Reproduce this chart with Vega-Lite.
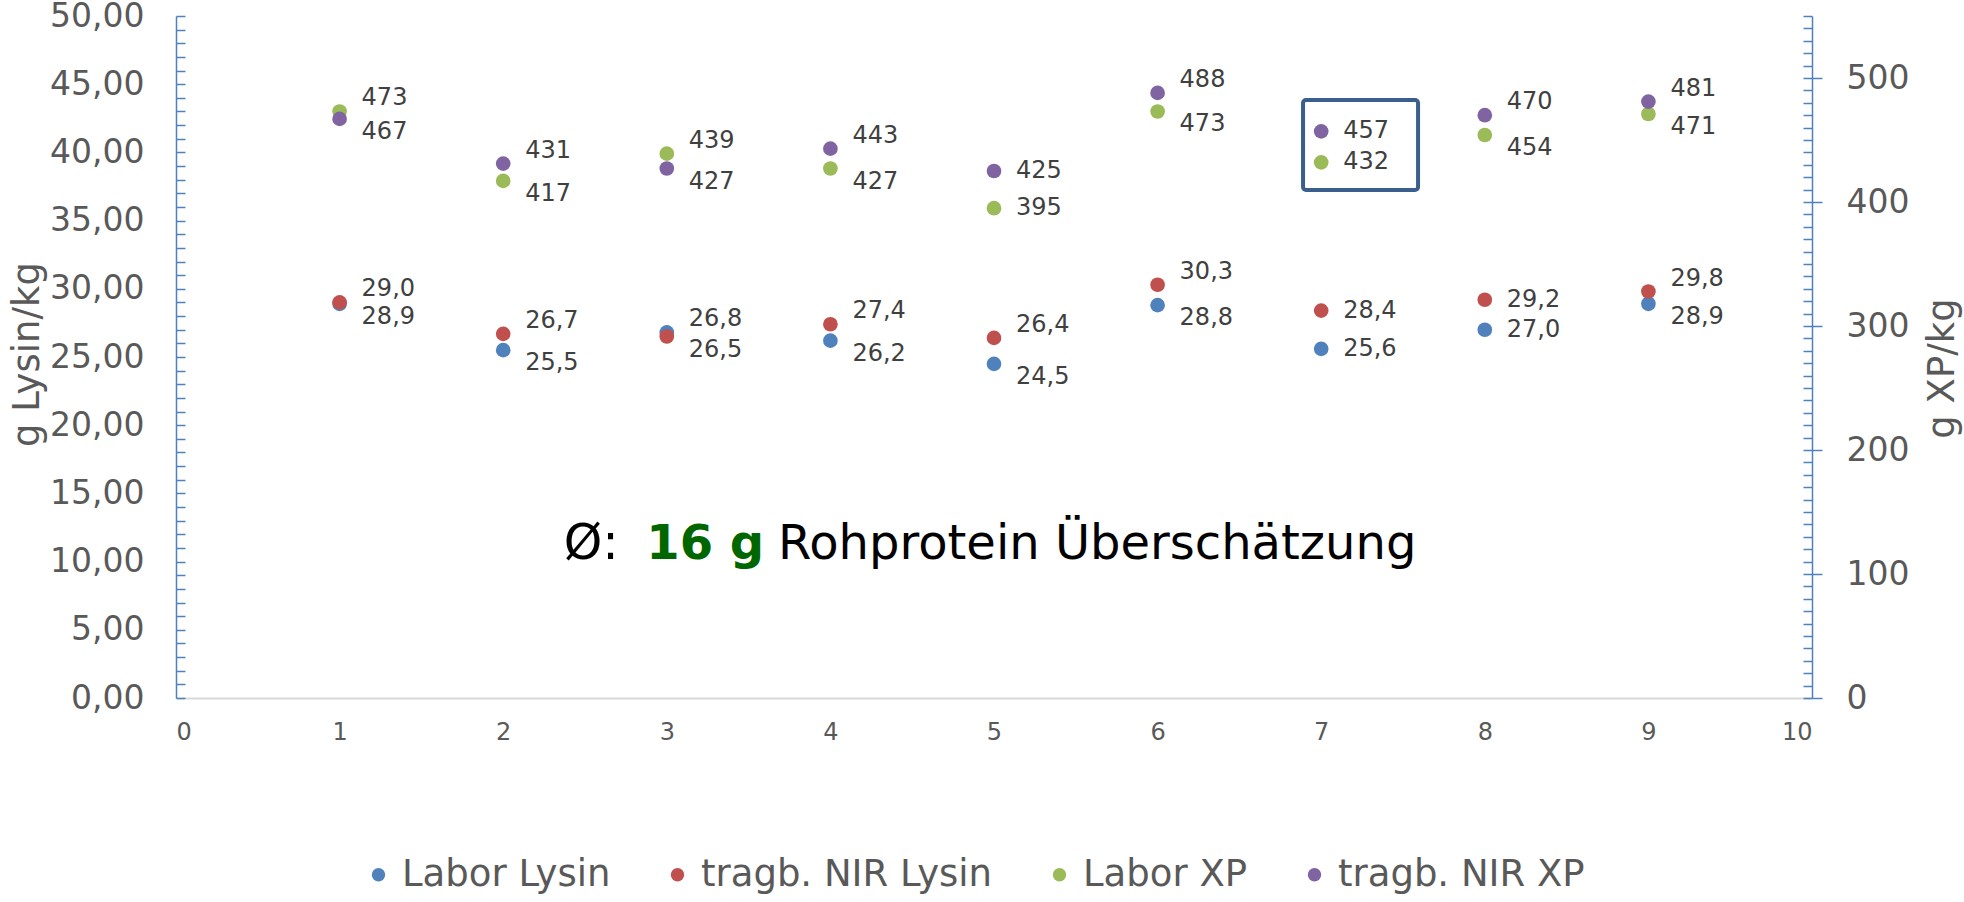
{
  "$schema": "https://vega.github.io/schema/vega-lite/v6.json",
  "width": 1636,
  "height": 682,
  "autosize": {"type": "none"},
  "padding": {"left": 176, "top": 16, "right": 152, "bottom": 204},
  "background": "#ffffff",
  "config": {
    "locale": {"number": {"decimal": ",", "thousands": ".", "grouping": [3], "currency": ["", " €"]}},
    "view": {"stroke": null},
    "font": "DejaVu Sans"
  },
  "datasets": {
    "werte": [
      {"nr": 1, "serie": "Labor Lysin", "gruppe": "Lysin", "wert": 28.9},
      {"nr": 2, "serie": "Labor Lysin", "gruppe": "Lysin", "wert": 25.5},
      {"nr": 3, "serie": "Labor Lysin", "gruppe": "Lysin", "wert": 26.8},
      {"nr": 4, "serie": "Labor Lysin", "gruppe": "Lysin", "wert": 26.2},
      {"nr": 5, "serie": "Labor Lysin", "gruppe": "Lysin", "wert": 24.5},
      {"nr": 6, "serie": "Labor Lysin", "gruppe": "Lysin", "wert": 28.8},
      {"nr": 7, "serie": "Labor Lysin", "gruppe": "Lysin", "wert": 25.6},
      {"nr": 8, "serie": "Labor Lysin", "gruppe": "Lysin", "wert": 27.0},
      {"nr": 9, "serie": "Labor Lysin", "gruppe": "Lysin", "wert": 28.9},
      {"nr": 1, "serie": "tragb. NIR Lysin", "gruppe": "Lysin", "wert": 29.0},
      {"nr": 2, "serie": "tragb. NIR Lysin", "gruppe": "Lysin", "wert": 26.7},
      {"nr": 3, "serie": "tragb. NIR Lysin", "gruppe": "Lysin", "wert": 26.5},
      {"nr": 4, "serie": "tragb. NIR Lysin", "gruppe": "Lysin", "wert": 27.4},
      {"nr": 5, "serie": "tragb. NIR Lysin", "gruppe": "Lysin", "wert": 26.4},
      {"nr": 6, "serie": "tragb. NIR Lysin", "gruppe": "Lysin", "wert": 30.3},
      {"nr": 7, "serie": "tragb. NIR Lysin", "gruppe": "Lysin", "wert": 28.4},
      {"nr": 8, "serie": "tragb. NIR Lysin", "gruppe": "Lysin", "wert": 29.2},
      {"nr": 9, "serie": "tragb. NIR Lysin", "gruppe": "Lysin", "wert": 29.8},
      {"nr": 1, "serie": "Labor XP", "gruppe": "XP", "wert": 473},
      {"nr": 2, "serie": "Labor XP", "gruppe": "XP", "wert": 417},
      {"nr": 3, "serie": "Labor XP", "gruppe": "XP", "wert": 439},
      {"nr": 4, "serie": "Labor XP", "gruppe": "XP", "wert": 427},
      {"nr": 5, "serie": "Labor XP", "gruppe": "XP", "wert": 395},
      {"nr": 6, "serie": "Labor XP", "gruppe": "XP", "wert": 473},
      {"nr": 7, "serie": "Labor XP", "gruppe": "XP", "wert": 432},
      {"nr": 8, "serie": "Labor XP", "gruppe": "XP", "wert": 454},
      {"nr": 9, "serie": "Labor XP", "gruppe": "XP", "wert": 471},
      {"nr": 1, "serie": "tragb. NIR XP", "gruppe": "XP", "wert": 467},
      {"nr": 2, "serie": "tragb. NIR XP", "gruppe": "XP", "wert": 431},
      {"nr": 3, "serie": "tragb. NIR XP", "gruppe": "XP", "wert": 427},
      {"nr": 4, "serie": "tragb. NIR XP", "gruppe": "XP", "wert": 443},
      {"nr": 5, "serie": "tragb. NIR XP", "gruppe": "XP", "wert": 425},
      {"nr": 6, "serie": "tragb. NIR XP", "gruppe": "XP", "wert": 488},
      {"nr": 7, "serie": "tragb. NIR XP", "gruppe": "XP", "wert": 457},
      {"nr": 8, "serie": "tragb. NIR XP", "gruppe": "XP", "wert": 470},
      {"nr": 9, "serie": "tragb. NIR XP", "gruppe": "XP", "wert": 481}
    ]
  },
  "layer": [
    {
      "layer": [
        {
          "data": {"name": "werte"},
          "transform": [{"filter": "datum.gruppe === 'Lysin'"}],
          "mark": {"type": "circle", "size": 215, "opacity": 1},
          "encoding": {
            "x": {
              "field": "nr",
              "type": "quantitative",
              "scale": {"domain": [0, 10], "nice": false, "zero": false},
              "axis": {
                "title": null,
                "values": [0, 1, 2, 3, 4, 5, 6, 7, 8, 9, 10],
                "format": "d",
                "ticks": false,
                "grid": false,
                "domainColor": "#D9D9D9",
                "domainWidth": 2,
                "labelFontSize": 24,
                "labelColor": "#595959",
                "labelPadding": 22
              }
            },
            "y": {
              "field": "wert",
              "type": "quantitative",
              "scale": {"domain": [0, 50], "nice": false},
              "axis": {
                "orient": "left",
                "values": [0,1,2,3,4,5,6,7,8,9,10,11,12,13,14,15,16,17,18,19,20,21,22,23,24,25,26,27,28,29,30,31,32,33,34,35,36,37,38,39,40,41,42,43,44,45,46,47,48,49,50],
                "labelExpr": "datum.value % 5 === 0 ? format(datum.value, '.2f') : ''",
                "labelOverlap": false,
                "labelFlush": false,
                "grid": false,
                "domainColor": "#4F81BD",
                "domainWidth": 1.5,
                "tickColor": "#4F81BD",
                "tickWidth": 1.5,
                "tickSize": -9,
                "labelFontSize": 33,
                "labelColor": "#595959",
                "labelPadding": 41,
                "title": "g Lysin/kg",
                "titleFontSize": 37,
                "titleFontWeight": "normal",
                "titleColor": "#595959",
                "titleAngle": -90,
                "titleBaseline": "middle",
                "titleAlign": "center",
                "titleX": -149,
                "titleY": 338
              }
            },
            "color": {
              "field": "serie",
              "type": "nominal",
              "scale": {
                "domain": ["Labor Lysin", "tragb. NIR Lysin", "Labor XP", "tragb. NIR XP"],
                "range": ["#4F81BD", "#C0504D", "#9BBB59", "#8064A2"]
              },
              "legend": {
                "title": null,
                "orient": "none",
                "direction": "horizontal",
                "legendX": 184,
                "legendY": 840,
                "symbolType": "circle",
                "symbolSize": 180,
                "symbolStrokeWidth": 0,
                "labelFontSize": 37,
                "labelColor": "#595959",
                "labelOffset": 5,
                "columnPadding": 48,
                "labelLimit": 500
              }
            }
          }
        },
        {
          "data": {"name": "werte"},
          "transform": [
            {"filter": "datum.gruppe === 'Lysin'"},
            {"joinaggregate": [{"op": "max", "field": "wert", "as": "maxw"}, {"op": "min", "field": "wert", "as": "minw"}], "groupby": ["nr"]},
            {"filter": "datum.wert === datum.maxw && datum.maxw - datum.minw < 2"}
          ],
          "mark": {"type": "text", "align": "left", "baseline": "middle", "dx": 22, "dy": -13, "fontSize": 24, "color": "#404040"},
          "encoding": {
            "x": {"field": "nr", "type": "quantitative"},
            "y": {"field": "wert", "type": "quantitative", "axis": null},
            "text": {"field": "wert", "type": "quantitative", "format": ".1f"}
          }
        },
        {
          "data": {"name": "werte"},
          "transform": [
            {"filter": "datum.gruppe === 'Lysin'"},
            {"joinaggregate": [{"op": "max", "field": "wert", "as": "maxw"}, {"op": "min", "field": "wert", "as": "minw"}], "groupby": ["nr"]},
            {"filter": "datum.wert === datum.minw && datum.maxw - datum.minw < 2"}
          ],
          "mark": {"type": "text", "align": "left", "baseline": "middle", "dx": 22, "dy": 13, "fontSize": 24, "color": "#404040"},
          "encoding": {
            "x": {"field": "nr", "type": "quantitative"},
            "y": {"field": "wert", "type": "quantitative", "axis": null},
            "text": {"field": "wert", "type": "quantitative", "format": ".1f"}
          }
        },
        {
          "data": {"name": "werte"},
          "transform": [
            {"filter": "datum.gruppe === 'Lysin'"},
            {"joinaggregate": [{"op": "max", "field": "wert", "as": "maxw"}, {"op": "min", "field": "wert", "as": "minw"}], "groupby": ["nr"]},
            {"filter": "datum.maxw - datum.minw >= 2"}
          ],
          "mark": {"type": "text", "align": "left", "baseline": "middle", "dx": 22, "fontSize": 24, "color": "#404040"},
          "encoding": {
            "x": {"field": "nr", "type": "quantitative"},
            "y": {"field": "wert", "type": "quantitative", "axis": null},
            "text": {"field": "wert", "type": "quantitative", "format": ".1f"}
          }
        },
        {
          "data": {"values": [{"teil": "a"}]},
          "mark": {"type": "text", "text": "Ø:", "align": "left", "baseline": "alphabetic", "fontSize": 49, "color": "#000000"},
          "encoding": {
            "x": {"datum": 2.37, "type": "quantitative"},
            "y": {"datum": 10.2, "type": "quantitative", "axis": null}
          }
        },
        {
          "data": {"values": [{"teil": "b"}]},
          "mark": {"type": "text", "text": "16 g", "align": "left", "baseline": "alphabetic", "fontSize": 48, "fontWeight": "bold", "color": "#006600"},
          "encoding": {
            "x": {"datum": 2.875, "type": "quantitative"},
            "y": {"datum": 10.2, "type": "quantitative", "axis": null}
          }
        },
        {
          "data": {"values": [{"teil": "c"}]},
          "mark": {"type": "text", "text": "Rohprotein Überschätzung", "align": "left", "baseline": "alphabetic", "fontSize": 48, "color": "#000000"},
          "encoding": {
            "x": {"datum": 3.68, "type": "quantitative"},
            "y": {"datum": 10.2, "type": "quantitative", "axis": null}
          }
        }
      ],
      "resolve": {"axis": {"y": "independent"}}
    },
    {
      "layer": [
        {
          "data": {"name": "werte"},
          "transform": [{"filter": "datum.gruppe === 'XP'"}],
          "mark": {"type": "circle", "size": 215, "opacity": 1},
          "encoding": {
            "x": {"field": "nr", "type": "quantitative"},
            "y": {
              "field": "wert",
              "type": "quantitative",
              "scale": {"domain": [0, 550], "nice": false},
              "axis": {
                "orient": "right",
                "values": [0, 100, 200, 300, 400, 500],
                "format": "d",
                "grid": false,
                "domainColor": "#4F81BD",
                "domainWidth": 1.5,
                "tickColor": "#4F81BD",
                "tickWidth": 1.5,
                "tickSize": 10,
                "labelFontSize": 33,
                "labelColor": "#595959",
                "labelPadding": 24,
                "title": "g XP/kg",
                "titleFontSize": 37,
                "titleFontWeight": "normal",
                "titleColor": "#595959",
                "titleAngle": -90,
                "titleBaseline": "middle",
                "titleAlign": "center",
                "titleX": 130,
                "titleY": 352
              }
            },
            "color": {"field": "serie", "type": "nominal"}
          }
        },
        {
          "data": {"name": "werte"},
          "transform": [
            {"filter": "datum.gruppe === 'XP'"},
            {"joinaggregate": [{"op": "max", "field": "wert", "as": "maxw"}, {"op": "min", "field": "wert", "as": "minw"}], "groupby": ["nr"]},
            {"filter": "datum.wert === datum.maxw && datum.maxw - datum.minw < 22"}
          ],
          "mark": {"type": "text", "align": "left", "baseline": "middle", "dx": 22, "dy": -13, "fontSize": 24, "color": "#404040"},
          "encoding": {
            "x": {"field": "nr", "type": "quantitative"},
            "y": {"field": "wert", "type": "quantitative", "axis": null},
            "text": {"field": "wert", "type": "quantitative", "format": "d"}
          }
        },
        {
          "data": {"name": "werte"},
          "transform": [
            {"filter": "datum.gruppe === 'XP'"},
            {"joinaggregate": [{"op": "max", "field": "wert", "as": "maxw"}, {"op": "min", "field": "wert", "as": "minw"}], "groupby": ["nr"]},
            {"filter": "datum.wert === datum.minw && datum.maxw - datum.minw < 22"}
          ],
          "mark": {"type": "text", "align": "left", "baseline": "middle", "dx": 22, "dy": 13, "fontSize": 24, "color": "#404040"},
          "encoding": {
            "x": {"field": "nr", "type": "quantitative"},
            "y": {"field": "wert", "type": "quantitative", "axis": null},
            "text": {"field": "wert", "type": "quantitative", "format": "d"}
          }
        },
        {
          "data": {"name": "werte"},
          "transform": [
            {"filter": "datum.gruppe === 'XP'"},
            {"joinaggregate": [{"op": "max", "field": "wert", "as": "maxw"}, {"op": "min", "field": "wert", "as": "minw"}], "groupby": ["nr"]},
            {"filter": "datum.maxw - datum.minw >= 22"}
          ],
          "mark": {"type": "text", "align": "left", "baseline": "middle", "dx": 22, "fontSize": 24, "color": "#404040"},
          "encoding": {
            "x": {"field": "nr", "type": "quantitative"},
            "y": {"field": "wert", "type": "quantitative", "axis": null},
            "text": {"field": "wert", "type": "quantitative", "format": "d"}
          }
        },
        {
          "data": {"values": [{"teil": "rahmen"}]},
          "mark": {"type": "rect", "filled": false, "stroke": "#3B5F8C", "strokeWidth": 4, "cornerRadius": 3},
          "encoding": {
            "x": {"datum": 6.889, "type": "quantitative"},
            "x2": {"datum": 7.592},
            "y": {
              "datum": 482.3,
              "type": "quantitative",
              "axis": {
                "orient": "right",
                "values": [0,10,20,30,40,50,60,70,80,90,100,110,120,130,140,150,160,170,180,190,200,210,220,230,240,250,260,270,280,290,300,310,320,330,340,350,360,370,380,390,400,410,420,430,440,450,460,470,480,490,500,510,520,530,540,550],
                "labels": false,
                "grid": false,
                "title": null,
                "domain": false,
                "tickColor": "#4F81BD",
                "tickWidth": 1.5,
                "tickSize": -9
              }
            },
            "y2": {"datum": 409.7}
          }
        }
      ],
      "resolve": {"axis": {"y": "independent"}}
    }
  ],
  "resolve": {"scale": {"y": "independent"}, "axis": {"y": "independent"}}
}
